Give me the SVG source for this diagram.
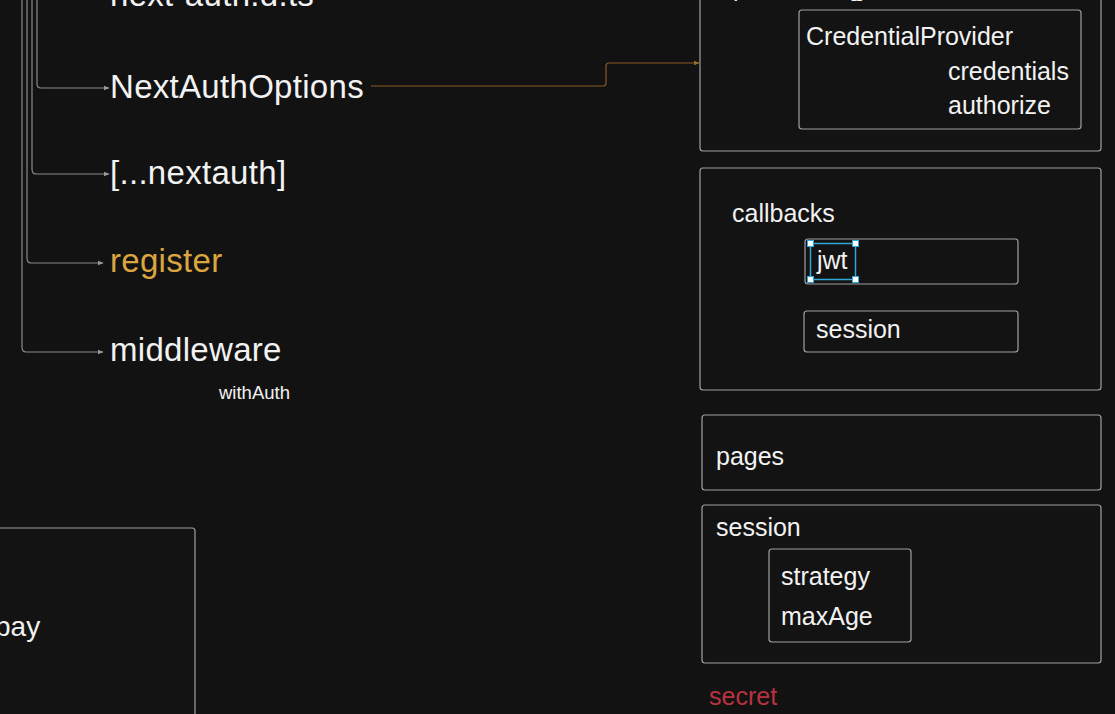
<svg xmlns="http://www.w3.org/2000/svg" width="1115" height="714" viewBox="0 0 1115 714">
  <defs>
    <marker id="arr" viewBox="0 0 6 6" refX="5.5" refY="3" markerWidth="6" markerHeight="6" orient="auto" markerUnits="userSpaceOnUse">
      <path d="M0,0.5 L6,3 L0,5.5 Z" fill="#9a9a9a"/>
    </marker>
    <marker id="arrO" viewBox="0 0 6 6" refX="5.5" refY="3" markerWidth="6" markerHeight="6" orient="auto" markerUnits="userSpaceOnUse">
      <path d="M0,0.5 L6,3 L0,5.5 Z" fill="#9a6a2a"/>
    </marker>
  </defs>
  <style>
    text { font-family: "Liberation Sans", Arial, sans-serif; fill: #f2f2f2; }
    .big { font-size: 33px; letter-spacing: 0.3px; }
    .mid { font-size: 25px; }
    .box { fill: #131313; stroke: #a0a0a0; stroke-width: 1.2; }
    .conn { fill: none; stroke: #8a8a8a; stroke-width: 1.2; }
  </style>
  <rect x="0" y="0" width="1115" height="714" fill="#121212"/>

  <g id="connectors">
    <path class="conn" d="M37,0 V84 Q37,88 41,88 H109" marker-end="url(#arr)"/>
    <path class="conn" d="M32,0 V169 Q32,174 36,174 H109" marker-end="url(#arr)"/>
    <path class="conn" d="M27,0 V258 Q27,263 31,263 H103" marker-end="url(#arr)"/>
    <path class="conn" d="M22,0 V347 Q22,352 26,352 H103" marker-end="url(#arr)"/>
    <path fill="none" stroke="#8a5a22" stroke-width="1.2" d="M371,86 H603 Q606,86 606,83 V66 Q606,63 609,63 H699" marker-end="url(#arrO)"/>
  </g>

  <g id="node-nextauth-dts"><text class="big" x="110" y="6">next-auth.d.ts</text></g>
  <g id="node-nextauthoptions"><text class="big" x="110" y="98">NextAuthOptions</text></g>
  <g id="node-nextauth-route"><text class="big" x="110" y="184">[...nextauth]</text></g>
  <g id="node-register"><text class="big" x="110" y="272" style="fill:#dba540">register</text></g>
  <g id="node-middleware">
    <text class="big" x="110" y="361">middleware</text>
    <text x="219" y="399" style="font-size:18.5px">withAuth</text>
  </g>

  <g id="node-pay">
    <rect class="box" x="-10" y="528" width="205" height="200" rx="3"/>
    <text x="-5" y="636" style="font-size:28px">pay</text>
  </g>

  <g id="node-providers">
    <rect class="box" x="700" y="-20" width="401" height="171" rx="3"/>
    <text class="mid" x="733" y="-4">providers: []</text>
    <rect class="box" x="799" y="10" width="282" height="119" rx="3"/>
    <text class="mid" x="806" y="45">CredentialProvider</text>
    <text class="mid" x="948" y="80">credentials</text>
    <text class="mid" x="948" y="114">authorize</text>
  </g>

  <g id="node-callbacks">
    <rect class="box" x="700" y="168" width="401" height="222" rx="3"/>
    <text class="mid" x="732" y="222">callbacks</text>
    <g id="node-jwt">
      <rect class="box" x="805" y="239" width="213" height="45" rx="3"/>
      <text class="mid" x="817" y="269">jwt</text>
      <rect x="810.5" y="243.5" width="45" height="36" fill="none" stroke="#2fa8d8" stroke-width="1.5"/>
      <g fill="#ffffff" stroke="#2fa8d8" stroke-width="1">
        <rect x="807.5" y="240.5" width="6" height="6"/>
        <rect x="852.5" y="240.5" width="6" height="6"/>
        <rect x="807.5" y="276.5" width="6" height="6"/>
        <rect x="852.5" y="276.5" width="6" height="6"/>
      </g>
    </g>
    <g id="node-cb-session">
      <rect class="box" x="804" y="311" width="214" height="41" rx="3"/>
      <text class="mid" x="816" y="338">session</text>
    </g>
  </g>

  <g id="node-pages">
    <rect class="box" x="702" y="415" width="399" height="75" rx="3"/>
    <text class="mid" x="716" y="465">pages</text>
  </g>

  <g id="node-session">
    <rect class="box" x="702" y="505" width="399" height="158" rx="3"/>
    <text class="mid" x="716" y="536">session</text>
    <rect class="box" x="769" y="549" width="142" height="93" rx="3"/>
    <text class="mid" x="781" y="585">strategy</text>
    <text class="mid" x="781" y="625">maxAge</text>
  </g>

  <g id="node-secret"><text class="mid" x="709" y="705" style="fill:#b8323f">secret</text></g>
</svg>
